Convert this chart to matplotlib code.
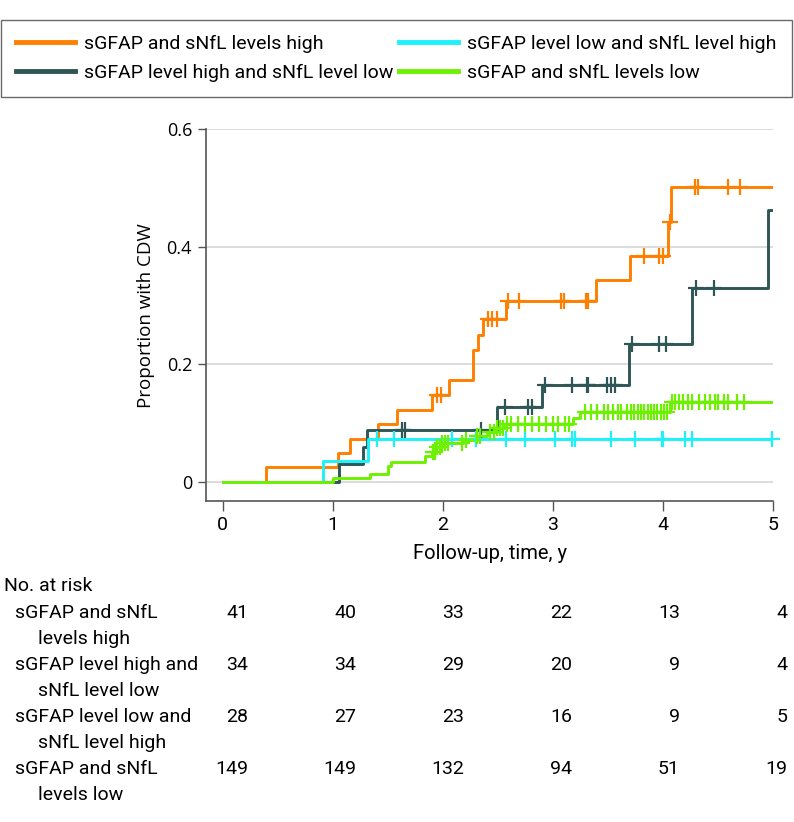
import numpy as np
import matplotlib
matplotlib.use("Agg")
import matplotlib.pyplot as plt
import matplotlib.transforms as mtransforms

narrow = ['Roboto', 'DejaVu Sans']
plt.rcParams['font.family'] = narrow

# cumulative incidence steps (time in years, proportion with CDW)
hh_t = [0.39, 1.05, 1.155, 1.41, 1.58, 1.90, 2.06, 2.27, 2.315, 2.36, 2.57, 3.39, 3.70, 4.05, 4.075]
hh_p = [0.0244, 0.0488, 0.0732, 0.0976, 0.122, 0.148, 0.173, 0.225, 0.249, 0.277, 0.307, 0.344, 0.385, 0.442, 0.502]
hh_cens = [1.95, 1.98, 2.41, 2.45, 2.49, 2.59, 2.69, 3.07, 3.10, 3.30, 3.32, 3.83, 3.96, 4.00,
           4.06, 4.29, 4.32, 4.59, 4.70]

hl_t = [1.058, 1.27, 1.31, 2.49, 2.90, 3.69, 4.26, 4.955]
hl_p = [0.0294, 0.0588, 0.088, 0.127, 0.165, 0.234, 0.330, 0.462]
hl_cens = [1.625, 1.66, 2.35, 2.56, 2.775, 2.81, 2.93, 3.17, 3.31, 3.32, 3.49, 3.53, 3.56,
           3.72, 3.96, 4.03, 4.30, 4.465]

lh_t = [0.91, 1.32]
lh_p = [0.0357, 0.0725]
lh_cens = [1.40, 1.56, 2.08, 2.30, 2.57, 2.745, 3.02, 3.17, 3.20, 3.53, 3.75, 3.99, 4.00,
           4.20, 4.26, 4.99]

ll_t = [1.00, 1.34, 1.50, 1.53, 1.84, 1.90, 1.94, 1.99, 2.185, 2.31, 2.40, 2.48, 2.56, 3.18, 3.245, 4.065]
ll_p = [0.0067, 0.0134, 0.027, 0.034, 0.043, 0.051, 0.059, 0.066, 0.071, 0.077, 0.085, 0.091, 0.098,
        0.108, 0.118, 0.136]
ll_cens = [1.91, 1.93, 1.95, 1.97, 1.99, 2.02, 2.05, 2.17, 2.21, 2.31, 2.34, 2.43, 2.46, 2.49,
           2.52, 2.55, 2.58, 2.62, 2.68, 2.75, 2.81, 2.87, 2.94, 3.00, 3.05, 3.11, 3.15, 3.29,
           3.35, 3.40, 3.46, 3.50, 3.55, 3.59, 3.62, 3.67, 3.71, 3.74, 3.77, 3.80, 3.83, 3.86,
           3.89, 3.92, 3.95, 3.98, 4.01, 4.04, 4.08, 4.11, 4.15, 4.18, 4.23, 4.26, 4.33, 4.38,
           4.43, 4.47, 4.50, 4.55, 4.59, 4.67, 4.74]

groups = ['sGFAP and sNfL levels high', 'sGFAP level high and sNfL level low',
          'sGFAP level low and sNfL level high', 'sGFAP and sNfL levels low']
colors = ['#FF7F00', '#2F5656', '#1CF2F8', '#6CF200']

risk_times = [0, 1, 2, 3, 4, 5]
risk_labels = [['sGFAP and sNfL', 'levels high'], ['sGFAP level high and', 'sNfL level low'],
               ['sGFAP level low and', 'sNfL level high'], ['sGFAP and sNfL', 'levels low']]
risk_counts = [[41, 40, 33, 22, 13, 4],
               [34, 34, 29, 20, 9, 4],
               [28, 27, 23, 16, 9, 5],
               [149, 149, 132, 94, 51, 19]]

curves = [(hh_t, hh_p, hh_cens), (hl_t, hl_p, hl_cens), (lh_t, lh_p, lh_cens), (ll_t, ll_p, ll_cens)]
t_end = 5.0

fig = plt.figure(figsize=(7.94, 8.22), dpi=100)
ax = fig.add_axes([0.2594, 0.3905, 0.7142, 0.452])

handles = []
for (tt, pp, cc), col, lab in zip(curves, colors, groups):
    xs = np.r_[0.0, tt, t_end]
    ys = np.r_[0.0, pp, pp[-1]]
    ln, = ax.step(xs, ys, where='post', color=col, lw=2.1, label=lab, zorder=3)
    handles.append(ln)
    idx = np.searchsorted(np.r_[0.0, tt], cc, side='right') - 1
    cy = np.r_[0.0, pp][idx]
    ax.plot(cc, cy, '+', color=col, ms=11, mew=1.6, zorder=4, clip_on=False)

ax.set_xlim(-0.153, 5.0)
ax.set_ylim(-0.033, 0.6)
ax.set_yticks([0, 0.2, 0.4, 0.6])
ax.set_yticklabels(['0', '0.2', '0.4', '0.6'], family=['Open Sans', 'DejaVu Sans'], fontsize=13)
ax.set_xticks(risk_times)
ax.set_xticklabels([str(t) for t in risk_times], fontsize=14)
ax.yaxis.grid(True, color='#DCDCDC', lw=1.4, zorder=0)
ax.set_axisbelow(True)
for s in ['top', 'right']:
    ax.spines[s].set_visible(False)
for s in ['left', 'bottom']:
    ax.spines[s].set_color('#555555')
    ax.spines[s].set_linewidth(1.2)
ax.tick_params(axis='y', length=6, width=1, color='#555555', pad=4)
ax.tick_params(axis='x', length=7, width=1, color='#555555', pad=4)
ax.set_ylabel('Proportion with CDW', family=['Open Sans', 'DejaVu Sans'], fontsize=13.5, labelpad=8)
ax.set_xlabel('Follow-up, time, y', fontsize=14.5, labelpad=7)

leg = fig.legend(handles, groups, ncol=2, loc='lower left', mode='expand',
                 bbox_to_anchor=(0.0013, 0.882, 0.996, 0.0925), fontsize=14,
                 frameon=True, fancybox=False, edgecolor='#444444', handlelength=3.0,
                 handletextpad=0.5, borderaxespad=0, borderpad=0.78, labelspacing=0.55,
                 columnspacing=1.0)
leg.get_frame().set_linewidth(1.0)
for h in leg.legend_handles:
    h.set_linewidth(3.5)

# number at risk table
tr = mtransforms.blended_transform_factory(ax.transData, fig.transFigure)
H = 822.0
fig.text(4 / 794, 1 - 586 / H, 'No. at risk', fontsize=14, va='center', ha='left')
row_y = [613, 665, 717, 769]
for lab, counts, y in zip(risk_labels, risk_counts, row_y):
    fig.text(15 / 794, 1 - y / H, lab[0], fontsize=14, va='center', ha='left')
    fig.text(38 / 794, 1 - (y + 25.5) / H, lab[1], fontsize=14, va='center', ha='left')
    for t, n in zip(risk_times, counts):
        fig.text(0.229 + 0.981 * t, 1 - y / H, str(n), transform=tr, fontsize=14,
                 va='center', ha='right')

fig.savefig('out.png', dpi=100)
